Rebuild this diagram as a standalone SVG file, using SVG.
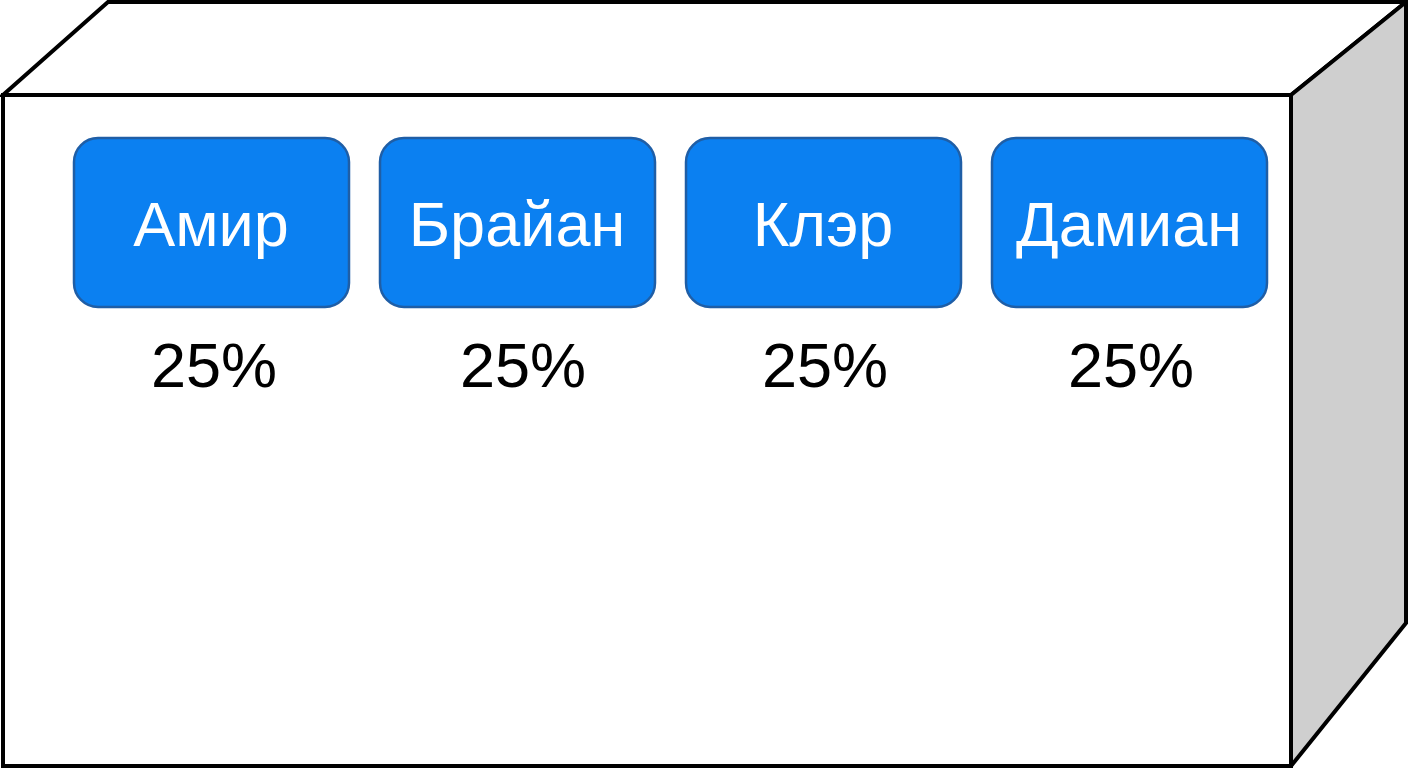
<svg xmlns="http://www.w3.org/2000/svg" width="1408" height="768" viewBox="0 0 1408 768">
<style>
.edge{stroke:#000;stroke-width:4;stroke-linejoin:miter}
.node rect{fill:#0b80f1;stroke:#1f5ea6;stroke-width:2.5}
.lbl{font-family:"Liberation Sans",Arial,sans-serif;font-size:63px;fill:#fff;text-anchor:middle}
.pct{font-family:"Liberation Sans",Arial,sans-serif;font-size:63px;fill:#000;text-anchor:middle}
</style>
<rect width="1408" height="768" fill="#fff"/>
<g id="box">
<polygon class="edge" points="3,95 108,2 1406,2 1291,95" fill="#fff"/>
<polygon class="edge" points="1291,95 1406,2 1406,623 1291,766" fill="#cfcfcf"/>
<rect class="edge" x="3" y="95" width="1288" height="671" fill="#fff"/>
</g>
<g id="amir" class="node"><rect x="74" y="138" width="275" height="169" rx="24"/><text class="lbl" x="211" y="246">Амир</text></g>
<g id="brian" class="node"><rect x="380" y="138" width="275" height="169" rx="24"/><text class="lbl" x="517" y="246">Брайан</text></g>
<g id="claire" class="node"><rect x="686" y="138" width="275" height="169" rx="24"/><text class="lbl" x="823" y="246">Клэр</text></g>
<g id="damian" class="node"><rect x="992" y="138" width="275" height="169" rx="24"/><text class="lbl" x="1129" y="246">Дамиан</text></g>
<g id="percents">
<text class="pct" x="214" y="387">25%</text>
<text class="pct" x="523" y="387">25%</text>
<text class="pct" x="825" y="387">25%</text>
<text class="pct" x="1131" y="387">25%</text>
</g>
<g id="connectors"/>
</svg>
